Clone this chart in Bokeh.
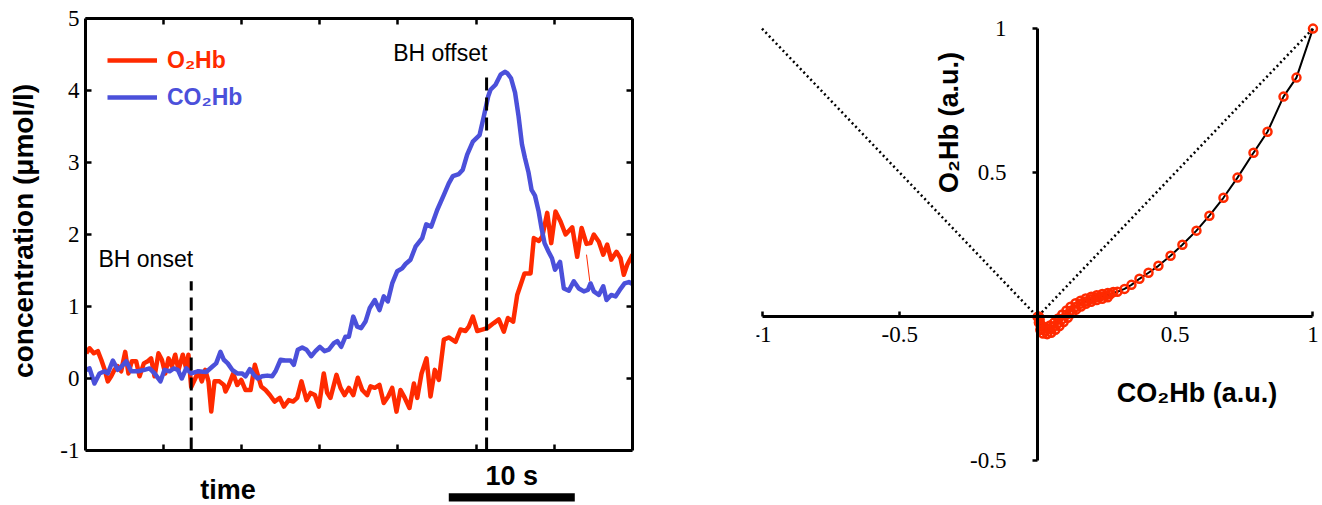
import math
from bokeh.plotting import figure
from bokeh.models import (LinearAxis, FixedTicker, Label, Legend, LegendItem,
                          BoxAnnotation, CustomJSTickFormatter, Range1d)
from bokeh.layouts import row
from bokeh.embed import file_html
from bokeh.resources import INLINE

# ---------------- data: left panel (time course) ----------------
time_o2 = [0.06, 0.32, 0.66, 0.98, 1.25, 1.51, 1.77, 2.04, 2.30, 2.56,
           2.83, 3.15, 3.41, 3.67, 4.02, 4.29, 4.63, 4.94, 5.21, 5.48,
           5.79, 6.06, 6.33, 6.59, 6.85, 7.12, 7.38, 7.72, 7.99, 8.17,
           8.39, 8.71, 8.97, 9.23, 9.50, 9.76, 9.98, 10.24, 10.63, 10.98,
           11.11, 11.37, 11.72, 12.04, 12.36, 12.70, 13.10, 13.44, 13.67, 13.94,
           14.29, 14.63, 15.00, 15.42, 15.74, 16.13, 16.48, 16.80, 17.14, 17.54,
           17.86, 18.20, 18.52, 18.91, 19.18, 19.44, 19.92, 20.24, 20.56, 20.90,
           21.25, 21.61, 21.96, 22.36, 22.62, 22.96, 23.33, 23.67, 24.02, 24.34,
           24.68, 25.00, 25.34, 25.71, 26.06, 26.33, 26.67, 27.06, 27.38, 27.72,
           28.04, 28.44, 28.83, 29.37, 29.76, 30.16, 30.42, 30.74, 31.09, 31.48,
           31.88, 32.40, 32.80, 33.20, 33.52, 33.94, 34.26, 34.84, 35.32, 35.58,
           35.98, 36.25, 36.64, 36.96, 37.30, 37.70, 38.10, 38.63, 39.02, 39.37,
           39.76, 40.08, 40.34, 40.74, 41.09, 41.40, 41.72, 42.14, 42.46, 42.72,
           42.99, 43.41]
o2hb = [0.35, 0.42, 0.35, 0.38, 0.26, 0.13, -0.04, 0.03, 0.12, 0.17,
        0.10, 0.37, 0.07, 0.24, 0.24, 0.03, 0.21, 0.24, 0.28, 0.03,
        0.35, 0.26, 0.07, 0.28, 0.17, 0.33, 0.12, 0.33, 0.14, 0.33,
        -0.12, 0.00, 0.10, -0.04, 0.12, -0.04, -0.46, -0.04, -0.04, -0.09,
        -0.18, -0.09, 0.07, -0.09, -0.02, -0.16, -0.16, 0.19, 0.05, -0.11,
        -0.16, -0.23, -0.32, -0.27, -0.39, -0.30, -0.32, -0.27, -0.04, -0.30,
        -0.20, -0.23, -0.39, 0.07, -0.20, -0.27, 0.05, -0.13, -0.23, -0.13,
        -0.23, 0.01, -0.16, -0.23, -0.11, -0.13, -0.09, -0.34, -0.25, -0.13,
        -0.46, -0.16, -0.27, -0.41, -0.07, -0.27, 0.07, 0.28, -0.25, 0.12,
        -0.02, 0.54, 0.57, 0.51, 0.68, 0.66, 0.72, 0.86, 0.66, 0.68,
        0.70, 0.77, 0.82, 0.65, 0.84, 0.79, 1.16, 1.46, 1.46, 1.95,
        1.91, 1.97, 2.30, 1.88, 2.32, 2.18, 2.00, 2.10, 1.69, 2.09,
        1.87, 1.88, 2.00, 1.90, 1.72, 1.86, 1.65, 1.76, 1.67, 1.44,
        1.58, 1.72]
# thin red glitch segment
glitch_t = [39.76, 40.02]
glitch_v = [1.72, 1.35]

time_co2 = [0.06, 0.32, 0.71, 1.11, 1.51, 1.77, 2.17, 2.56, 2.88, 3.23,
            3.63, 4.15, 4.68, 5.08, 5.48, 5.95, 6.27, 6.67, 7.01, 7.33,
            7.64, 7.99, 8.39, 8.91, 9.58, 10.10, 10.37, 10.71, 10.98, 11.29,
            11.64, 12.04, 12.44, 12.70, 13.04, 13.36, 13.67, 14.02, 14.42, 14.82,
            15.08, 15.48, 15.87, 16.27, 16.53, 16.85, 17.20, 17.54, 17.91, 18.25,
            18.60, 18.97, 19.31, 19.71, 19.98, 20.29, 20.63, 20.90, 21.25, 21.56,
            21.88, 22.22, 22.56, 22.96, 23.33, 23.67, 23.99, 24.34, 24.74, 25.13,
            25.40, 25.79, 26.19, 26.72, 27.04, 27.44, 27.91, 28.44, 28.83, 29.15,
            29.63, 29.94, 30.29, 30.74, 31.27, 31.61, 31.96, 32.14, 32.54, 32.94,
            33.28, 33.47, 33.77, 34.09, 34.37, 34.64, 34.88, 35.16, 35.40, 35.67,
            35.95, 36.19, 36.43, 36.75, 37.02, 37.26, 37.66, 37.96, 38.36, 38.75,
            39.15, 39.55, 39.87, 40.08, 40.34, 40.74, 41.09, 41.35, 41.72, 42.06,
            42.40, 42.78, 43.12, 43.41]
co2hb = [0.12, 0.14, -0.07, 0.07, 0.10, 0.07, 0.25, 0.12, 0.17, 0.24,
         0.10, 0.10, 0.12, 0.14, 0.07, -0.04, 0.12, 0.10, 0.14, 0.12,
         0.00, 0.14, 0.07, 0.10, 0.09, 0.17, 0.21, 0.37, 0.26, 0.21,
         0.12, 0.07, 0.07, 0.03, 0.13, 0.05, 0.00, 0.03, 0.04, 0.03,
         0.10, 0.26, 0.25, 0.25, 0.19, 0.40, 0.43, 0.40, 0.31, 0.38,
         0.44, 0.38, 0.40, 0.49, 0.52, 0.44, 0.58, 0.58, 0.86, 0.72,
         0.70, 0.79, 0.98, 1.09, 0.95, 1.14, 1.07, 1.32, 1.49, 1.53,
         1.59, 1.65, 1.83, 1.95, 2.14, 2.11, 2.34, 2.55, 2.71, 2.81,
         2.84, 2.90, 3.11, 3.29, 3.38, 3.64, 3.92, 4.01, 4.08, 4.22,
         4.26, 4.24, 4.17, 3.97, 3.64, 3.25, 3.06, 2.86, 2.62, 2.54,
         2.33, 2.09, 1.88, 1.76, 1.67, 1.51, 1.62, 1.25, 1.22, 1.35,
         1.25, 1.21, 1.23, 1.32, 1.21, 1.16, 1.28, 1.09, 1.16, 1.14,
         1.23, 1.32, 1.34, 1.31]

bh_times = [8.39, 31.83]          # breath-hold onset / offset (s)
bh_line_top = [1.35, 4.19]
bh_line_bottom = [-1, -1]
bh_names = ["BH onset", "BH offset"]
bh_label_t = [1.03, 24.42]
bh_label_v = [1.655, 4.525]

conc_ticks = [-1, 0, 1, 2, 3, 4, 5]
time_ticks = [6.2, 12.4, 18.6, 24.8, 31.0, 37.2]
scalebar_start = 28.83
scalebar_len = 10.0               # seconds

# ---------------- data: right panel (normalised trajectory) ----------------
co2_norm = [0.000, 0.005, 0.008, 0.011, 0.017, 0.029, 0.045, 0.059, 0.074, 0.090,
            0.105, 0.120, 0.138, 0.156, 0.174, 0.192, 0.211, 0.229, 0.247, 0.265,
            0.290, 0.316, 0.341, 0.370, 0.403, 0.439, 0.483, 0.526, 0.577, 0.624,
            0.675, 0.726, 0.784, 0.835, 0.893, 0.940, 1.000]
o2_norm = [0.000, 0.001, -0.010, -0.028, -0.045, -0.048, -0.043, -0.034, -0.022, -0.008,
           0.007, 0.021, 0.034, 0.045, 0.053, 0.061, 0.067, 0.071, 0.074, 0.079,
           0.087, 0.097, 0.111, 0.132, 0.153, 0.177, 0.212, 0.250, 0.299, 0.351,
           0.413, 0.483, 0.569, 0.642, 0.764, 0.830, 1.000]
# extra samples in the dense, slowly-moving start of the trajectory
co2_band = [0.005, 0.010, 0.020, 0.035, 0.050, 0.065, 0.080, 0.095, 0.110, 0.125,
            0.140, 0.158, 0.176, 0.195, 0.215, 0.235, 0.255,
            0.015, 0.030, 0.045, 0.060, 0.075, 0.090, 0.105, 0.120, 0.138,
            0.156, 0.175, 0.195, 0.215, 0.235, 0.255, 0.275]
o2_band = [-0.020, -0.045, -0.058, -0.060, -0.055, -0.045, -0.032, -0.018, -0.003, 0.012,
           0.025, 0.036, 0.045, 0.052, 0.058, 0.063, 0.068,
           -0.030, -0.037, -0.030, -0.020, -0.006, 0.008, 0.022, 0.035, 0.047,
           0.056, 0.064, 0.070, 0.075, 0.079, 0.083, 0.086]
diag_x = [-1, 0, 1]
diag_y = [1, 0, 1]
norm_xticks = [-1, -0.5, 0.5, 1]
norm_yticks = [-0.5, 0.5, 1]

RED = "#FF2A00"
BLUE = "#4B50DA"
SANS = "Liberation Sans"
SERIF = "Liberation Serif"
JS_FMT = "return tick.toString()"
NBSP = "\u00a0"

# ======================= left figure =======================
p1 = figure(frame_width=547, frame_height=487,
            x_range=Range1d(0, 43.41), y_range=Range1d(-1.764, 5),
            min_border_left=85, min_border_right=24, min_border_top=18,
            min_border_bottom=0, output_backend="svg", toolbar_location=None)
p1.outline_line_color = None
p1.xgrid.visible = False
p1.ygrid.visible = False


def style_axis(ax, labels=True):
    ax.axis_line_width = 3
    ax.axis_line_color = "black"
    ax.major_tick_line_width = 2.5
    ax.major_tick_line_color = "black"
    ax.major_tick_in = 6
    ax.major_tick_out = 0
    ax.minor_tick_line_color = None
    if labels:
        ax.major_label_text_font = SERIF
        ax.major_label_text_font_size = "23px"
        ax.major_label_text_color = "black"
        ax.formatter = CustomJSTickFormatter(code=JS_FMT)
    else:
        ax.major_label_text_font_size = "0px"
        ax.major_label_text_color = None
        ax.major_label_standoff = 0


ya1 = p1.yaxis[0]
ya1.ticker = FixedTicker(ticks=conc_ticks)
ya1.bounds = (-1, 5)
style_axis(ya1)
ya1.major_label_standoff = 6
# leading no-break spaces lift the centred label to where the reference has it
ya1.axis_label = NBSP * 8 + "concentration (\u03bcmol/l)"
ya1.axis_label_text_font = SANS
ya1.axis_label_text_font_style = "bold"
ya1.axis_label_text_font_size = "28px"
ya1.axis_label_text_color = "black"
ya1.axis_label_standoff = 18

xa1 = p1.xaxis[0]
xa1.ticker = FixedTicker(ticks=time_ticks)
xa1.fixed_location = -1
style_axis(xa1, labels=False)

top_ax = LinearAxis(ticker=FixedTicker(ticks=time_ticks))
style_axis(top_ax, labels=False)
p1.add_layout(top_ax, "above")
right_ax = LinearAxis(ticker=FixedTicker(ticks=conc_ticks), bounds=(-1, 5))
style_axis(right_ax, labels=False)
p1.add_layout(right_ax, "right")

r_red = p1.line(time_o2, o2hb, line_color=RED, line_width=4.5, line_join="round")
p1.line(glitch_t, glitch_v, line_color=RED, line_width=1)
r_blue = p1.line(time_co2, co2hb, line_color=BLUE, line_width=4.5, line_join="round")

p1.segment(x0=bh_times, y0=bh_line_bottom, x1=bh_times, y1=bh_line_top,
           line_color="black", line_width=3, line_dash="13 7")

for name, tx, ty in zip(bh_names, bh_label_t, bh_label_v):
    p1.add_layout(Label(x=tx, y=ty, text=name, text_font=SANS,
                        text_font_size="23px", text_color="black",
                        text_baseline="alphabetic"))

leg_common = dict(padding=0, margin=0, border_line_color=None,
                  background_fill_alpha=0, glyph_width=50, glyph_height=30,
                  label_height=30, label_standoff=10, label_text_font=SANS,
                  label_text_font_style="bold", label_text_font_size="23px")
leg1 = Legend(items=[LegendItem(label="O\u2082Hb", renderers=[r_red])],
              location=(22, 430), label_text_color=RED, **leg_common)
leg2 = Legend(items=[LegendItem(label="CO\u2082Hb", renderers=[r_blue])],
              location=(22, 393), label_text_color=BLUE, **leg_common)
p1.add_layout(leg1)
p1.add_layout(leg2)

p1.add_layout(Label(x=11.31, y=-1.55, text="time", text_align="center",
                    text_baseline="alphabetic", text_font=SANS, text_color="black",
                    text_font_style="bold", text_font_size="27px"))
p1.add_layout(Label(x=scalebar_start + scalebar_len / 2, y=-1.361, text="10 s",
                    text_align="center", text_baseline="alphabetic", text_color="black",
                    text_font=SANS, text_font_style="bold", text_font_size="27px"))
p1.add_layout(BoxAnnotation(left=scalebar_start, right=scalebar_start + scalebar_len,
                            bottom=-1.708, top=-1.593, fill_color="black",
                            fill_alpha=1, line_color=None))

# ======================= right figure =======================
p2 = figure(frame_width=562, frame_height=454,
            x_range=Range1d(-1.02, 1.02), y_range=Range1d(-0.54, 1.035),
            min_border_left=100, min_border_right=2, min_border_top=18,
            min_border_bottom=0, output_backend="svg", toolbar_location=None)
p2.outline_line_color = None
p2.xgrid.visible = False
p2.ygrid.visible = False

xa = p2.xaxis[0]
xa.fixed_location = 0
xa.bounds = (-1, 1)
xa.ticker = FixedTicker(ticks=norm_xticks)
style_axis(xa)
xa.major_tick_in = 5
xa.major_label_standoff = 10

ya = p2.yaxis[0]
ya.fixed_location = 0
ya.bounds = (-0.5, 1)
ya.ticker = FixedTicker(ticks=norm_yticks)
style_axis(ya)
ya.major_tick_in = 0
ya.major_tick_out = 5
ya.major_label_text_align = "center"
ya.major_label_standoff = 26

p2.line(diag_x, diag_y, line_color="black", line_width=2.5, line_dash="2 3")
p2.line(co2_norm, o2_norm, line_color="black", line_width=2)
p2.scatter(co2_band, o2_band, size=8, fill_color=None, line_color=RED, line_width=2.5)
p2.scatter(co2_norm, o2_norm, size=8, fill_color=None, line_color=RED, line_width=2.5)

p2.add_layout(Label(x=-0.323, y=0.674, text="O\u2082Hb (a.u.)", angle=math.pi / 2,
                    text_align="center", text_baseline="alphabetic", text_color="black",
                    text_font=SANS, text_font_style="bold", text_font_size="27px"))
p2.add_layout(Label(x=0.579, y=-0.264, text="CO\u2082Hb (a.u.)",
                    text_align="center", text_baseline="alphabetic", text_color="black",
                    text_font=SANS, text_font_style="bold", text_font_size="27px"))

layout = row(p1, p2)
open("out.html", "w").write(file_html(layout, INLINE))
